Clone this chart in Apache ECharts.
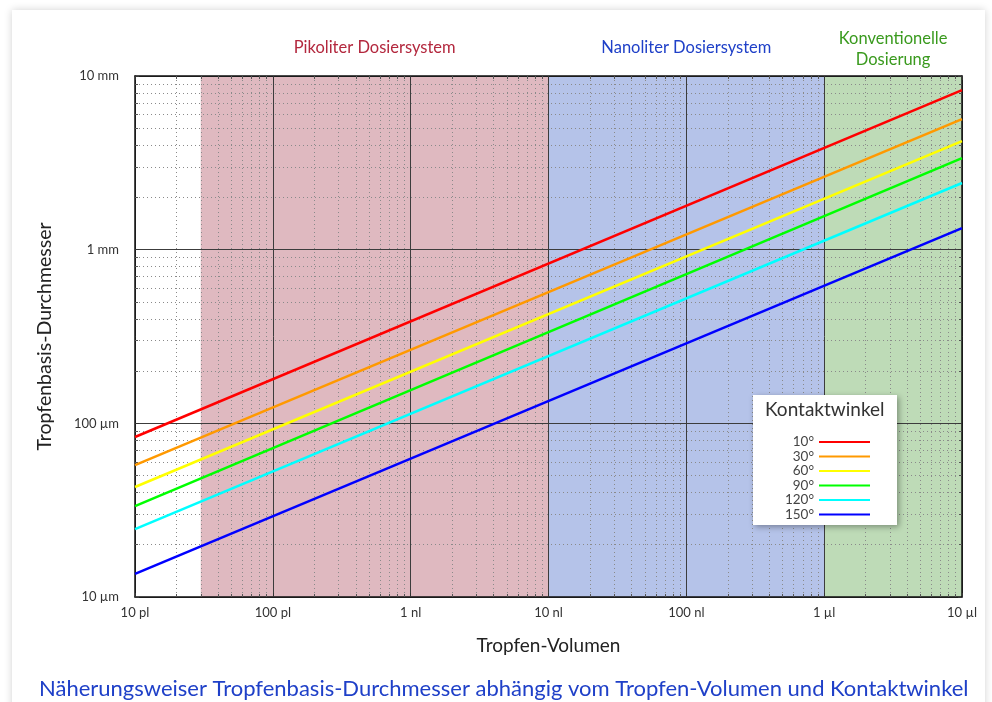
<!DOCTYPE html>
<html><head><meta charset="utf-8">
<script src="https://cdn.jsdelivr.net/npm/echarts@6/dist/echarts.min.js"></script>
<style>
html,body{margin:0;padding:0;background:#ffffff;}
#card{position:absolute;left:12px;top:10px;width:973px;height:720px;background:#fff;box-shadow:0 0 8px rgba(0,0,0,0.18);}
#c{position:absolute;left:0;top:0;width:992px;height:702px;}
</style></head>
<body>
<div id="card"></div>
<div id="c"></div>
<script>
// Volume in pl, diameter in µm
const volumes = [10, 1e7];
const angles = ['10°', '30°', '60°', '90°', '120°', '150°'];
const diam10 = [83.4, 57.5, 43.0, 33.4, 24.6, 13.6];
const diam150 = [8300, 5650, 4220, 3370, 2420, 1330];
const colors = ['#ff0000', '#ff9900', '#ffff00', '#00ff00', '#00ffff', '#0000ff'];
const xTickLabels = ['10 pl', '100 pl', '1 nl', '10 nl', '100 nl', '1 µl', '10 µl'];
const yTickLabels = ['10 µm', '100 µm', '1 mm', '10 mm'];
const regions = [
  {name: 'Pikoliter Dosiersystem', from: 30, to: 1e4, fill: '#dfb9c0', text: '#b3283e'},
  {name: 'Nanoliter Dosiersystem', from: 1e4, to: 1e6, fill: '#b5c3e9', text: '#1f40c8'},
  {name: 'Konventionelle\nDosierung', from: 1e6, to: 1e7, fill: '#bedbb7', text: '#3a9a1e'}
];
const font = 'Lato, "Open Sans", sans-serif';

const chart = echarts.init(document.getElementById('c'));
const series = angles.map((a, i) => ({
  name: a, type: 'line', symbol: 'none', zlevel: 2, z: 5,
  data: [[volumes[0], diam10[i]], [volumes[1], diam150[i]]],
  lineStyle: {color: colors[i], width: 2.5}, itemStyle: {color: colors[i]}
}));
series.unshift({
  name: 'regions', type: 'line', data: [], zlevel: 0, z: 1, silent: true,
  markArea: {
    silent: true,
    data: regions.map(r => [{xAxis: r.from, itemStyle: {color: r.fill},
      label: {show: true, position: 'top', distance: r.name.indexOf('\n') > 0 ? 6 : 18,
        color: r.text, fontSize: 16.5, lineHeight: 21, fontFamily: font, formatter: r.name}},
      {xAxis: r.to}])
  }
});

function axisBase() {
  return {
    axisLine: {show: true, lineStyle: {color: '#111', width: 1.5}},
    axisTick: {show: true, inside: true, length: 4, lineStyle: {color: '#333'}},
    minorTick: {show: true, splitNumber: 9, length: 3, lineStyle: {color: '#555'}}
  };
}

const option = {
  animation: false,
  grid: {left: 135, right: 30, top: 76, bottom: 105},
  title: {
    text: 'Näherungsweiser Tropfenbasis-Durchmesser abhängig vom Tropfen-Volumen und Kontaktwinkel',
    left: 34, top: 673,
    textStyle: {color: '#1f40c8', fontSize: 22, fontWeight: 'normal', fontFamily: font}
  },
  legend: {
    data: angles, orient: 'vertical', left: 779, top: 430, align: 'right', zlevel: 3, z: 20,
    icon: 'rect', itemWidth: 51, itemHeight: 2, itemGap: 0.5,
    textStyle: {color: '#444', fontSize: 13.5, lineHeight: 13, width: 30, align: 'right', fontFamily: font}
  },
  graphic: [
    {type: 'rect', left: 753, top: 395, zlevel: 3, z: 1, shape: {width: 144, height: 130},
     style: {fill: '#fff', shadowBlur: 6, shadowColor: 'rgba(0,0,0,0.35)', shadowOffsetX: 2, shadowOffsetY: 2}},
    {type: 'text', left: 765, top: 400, zlevel: 3, z: 2,
     style: {text: 'Kontaktwinkel', fill: '#333', fontSize: 19, fontFamily: font}}
  ],
  xAxis: [Object.assign(axisBase(), {
    type: 'log', logBase: 10, min: 10, max: 1e7, splitNumber: 6, zlevel: 1,
    name: 'Tropfen-Volumen', nameLocation: 'middle', nameGap: 39,
    nameTextStyle: {color: '#222', fontSize: 19, fontFamily: font},
    axisLabel: {color: '#333', fontSize: 13, fontFamily: font, margin: 9,
      formatter: v => xTickLabels[Math.round(Math.log10(v)) - 1]},
    splitLine: {show: true, lineStyle: {color: '#3c3c3c', width: 1}},
    minorSplitLine: {show: true, lineStyle: {color: '#8a8a8a', type: [1, 3], width: 1}}
  }), Object.assign(axisBase(), {
    type: 'log', logBase: 10, min: 10, max: 1e7, splitNumber: 6, zlevel: 1, position: 'top',
    axisLabel: {show: false}, splitLine: {show: false}
  })],
  yAxis: [Object.assign(axisBase(), {
    type: 'log', logBase: 10, min: 10, max: 1e4, splitNumber: 3, zlevel: 1,
    name: 'Tropfenbasis-Durchmesser', nameLocation: 'middle', nameGap: 80,
    nameTextStyle: {color: '#222', fontSize: 19.5, fontFamily: font},
    axisLabel: {color: '#333', fontSize: 13, fontFamily: font, margin: 16,
      formatter: v => yTickLabels[Math.round(Math.log10(v)) - 1]},
    splitLine: {show: true, lineStyle: {color: '#3c3c3c', width: 1}},
    minorSplitLine: {show: true, lineStyle: {color: '#8a8a8a', type: [1, 3], width: 1}}
  }), Object.assign(axisBase(), {
    type: 'log', logBase: 10, min: 10, max: 1e4, splitNumber: 3, zlevel: 1, position: 'right',
    axisLabel: {show: false}, splitLine: {show: false}
  })],
  series: series
};
chart.setOption(option);
</script>
</body></html>
